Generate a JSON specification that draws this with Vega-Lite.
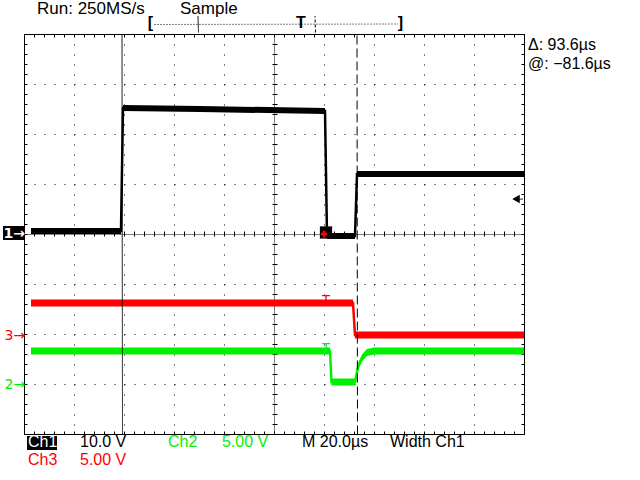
{
  "$schema": "https://vega.github.io/schema/vega-lite/v6.json",
  "width": 500,
  "height": 400,
  "autosize": {"type": "none"},
  "padding": {"left": 24, "top": 34, "right": 116, "bottom": 46},
  "background": "white",
  "config": {
    "view": {"stroke": null},
    "axis": {"labels": false, "domain": false, "ticks": false, "grid": false, "tickColor": "black", "gridColor": "black", "gridOpacity": 1, "domainColor": "black", "tickWidth": 1, "domainWidth": 1, "gridWidth": 1},
    "text": {"font": "Liberation Sans"}
  },
  "resolve": {"axis": {"x": "independent", "y": "independent"}},
  "datasets": {
    "traces": [
      {"ch": "1", "t": 0.14, "v": 4.06, "lo": 4.0, "hi": 4.12},
      {"ch": "1", "t": 1.94, "v": 4.06, "lo": 4.0, "hi": 4.12},
      {"ch": "1", "t": 1.98, "v": 6.52, "lo": 6.46, "hi": 6.58},
      {"ch": "1", "t": 3.52, "v": 6.5, "lo": 6.44, "hi": 6.56},
      {"ch": "1", "t": 6.02, "v": 6.46, "lo": 6.4, "hi": 6.52},
      {"ch": "1", "t": 6.06, "v": 3.96, "lo": 3.9, "hi": 4.02},
      {"ch": "1", "t": 6.62, "v": 3.96, "lo": 3.9, "hi": 4.02},
      {"ch": "1", "t": 6.66, "v": 5.2, "lo": 5.14, "hi": 5.26},
      {"ch": "1", "t": 10, "v": 5.2, "lo": 5.14, "hi": 5.26},
      {"ch": "3", "t": 0.14, "v": 2.62, "lo": 2.55, "hi": 2.69},
      {"ch": "3", "t": 6.58, "v": 2.62, "lo": 2.55, "hi": 2.69},
      {"ch": "3", "t": 6.62, "v": 1.98, "lo": 1.91, "hi": 2.05},
      {"ch": "3", "t": 10, "v": 1.98, "lo": 1.91, "hi": 2.05},
      {"ch": "2", "t": 0.14, "v": 1.66, "lo": 1.59, "hi": 1.73},
      {"ch": "2", "t": 6.12, "v": 1.66, "lo": 1.59, "hi": 1.73},
      {"ch": "2", "t": 6.15, "v": 1.04, "lo": 0.97, "hi": 1.11},
      {"ch": "2", "t": 6.62, "v": 1.04, "lo": 0.97, "hi": 1.11},
      {"ch": "2", "t": 6.64, "v": 1.14, "lo": 1.07, "hi": 1.21},
      {"ch": "2", "t": 6.68, "v": 1.34, "lo": 1.27, "hi": 1.41},
      {"ch": "2", "t": 6.76, "v": 1.52, "lo": 1.45, "hi": 1.59},
      {"ch": "2", "t": 6.86, "v": 1.63, "lo": 1.56, "hi": 1.7},
      {"ch": "2", "t": 7.0, "v": 1.66, "lo": 1.59, "hi": 1.73},
      {"ch": "2", "t": 10, "v": 1.66, "lo": 1.59, "hi": 1.73}
    ],
    "rules": [
      {"t": 1.96, "t2": 1.96, "v": 0, "v2": 8, "kind": "cursor1"},
      {"t": 6.66, "t2": 6.66, "v": 0, "v2": 8, "kind": "cursor2"},
      {"t": 2.6, "t2": 7.48, "v": 8.2, "v2": 8.2, "kind": "record"},
      {"t": 3.48, "t2": 3.48, "v": 8.04, "v2": 8.36, "kind": "view"},
      {"t": 5.82, "t2": 5.82, "v": 8.04, "v2": 8.36, "kind": "trigpos"},
      {"t": 9.84, "t2": 9.98, "v": 4.7, "v2": 4.7, "kind": "view"}
    ],
    "header": [
      {"label": "Run: 250MS/s", "ch": "0", "t": 0.26, "v": 8.4},
      {"label": "Sample", "ch": "0", "t": 3.12, "v": 8.4}
    ],
    "labels": [
      {"label": "10.0 V", "ch": "1", "t": 1.12, "v": -0.26},
      {"label": "Ch2", "ch": "2", "t": 2.88, "v": -0.26},
      {"label": "5.00 V", "ch": "2", "t": 3.96, "v": -0.26},
      {"label": "M 20.0µs", "ch": "0", "t": 5.56, "v": -0.26},
      {"label": "Width Ch1", "ch": "0", "t": 7.32, "v": -0.26},
      {"label": "Ch3", "ch": "3", "t": 0.08, "v": -0.62},
      {"label": "5.00 V", "ch": "3", "t": 1.12, "v": -0.62},
      {"label": "Δ: 93.6µs", "ch": "0", "t": 10.08, "v": 7.68},
      {"label": "@: −81.6µs", "ch": "0", "t": 10.08, "v": 7.3}
    ]
  },
  "layer": [
    {
      "data": {"name": "traces"},
      "mark": {"type": "area", "opacity": 1, "clip": false},
      "encoding": {
        "x": {"field": "t", "type": "quantitative", "scale": {"domain": [0, 10], "nice": false, "zero": false},
              "axis": {"orient": "bottom", "values": [1, 2, 3, 4, 6, 7, 8, 9], "grid": true, "gridDash": [1, 9], "title": null}},
        "y": {"field": "lo", "type": "quantitative", "scale": {"domain": [0, 8], "nice": false, "zero": false},
              "axis": {"orient": "left", "values": [1, 2, 3, 5, 6, 7], "grid": true, "gridDash": [1, 9], "title": null}},
        "y2": {"field": "hi"},
        "color": {"field": "ch", "type": "nominal", "scale": {"domain": ["0", "1", "2", "3"], "range": ["#000000", "#000000", "#00f000", "#ff0000"]}, "legend": null}
      }
    },
    {
      "data": {"name": "traces"},
      "mark": {"type": "line", "strokeWidth": 2.5, "clip": false},
      "encoding": {
        "x": {"field": "t", "type": "quantitative", "scale": {"domain": [0, 10], "nice": false, "zero": false},
              "axis": {"orient": "bottom", "domain": true, "ticks": true, "tickSize": -3, "title": null,
                       "values": [0,0.2,0.4,0.6,0.8,1,1.2,1.4,1.6,1.8,2,2.2,2.4,2.6,2.8,3,3.2,3.4,3.6,3.8,4,4.2,4.4,4.6,4.8,5,5.2,5.4,5.6,5.8,6,6.2,6.4,6.6,6.8,7,7.2,7.4,7.6,7.8,8,8.2,8.4,8.6,8.8,9,9.2,9.4,9.6,9.8,10]}},
        "y": {"field": "v", "type": "quantitative", "scale": {"domain": [0, 8], "nice": false, "zero": false},
              "axis": {"orient": "left", "domain": true, "ticks": true, "tickSize": -3, "title": null,
                       "values": [0,0.2,0.4,0.6,0.8,1,1.2,1.4,1.6,1.8,2,2.2,2.4,2.6,2.8,3,3.2,3.4,3.6,3.8,4,4.2,4.4,4.6,4.8,5,5.2,5.4,5.6,5.8,6,6.2,6.4,6.6,6.8,7,7.2,7.4,7.6,7.8,8]}},
        "color": {"field": "ch", "type": "nominal", "scale": {"domain": ["0", "1", "2", "3"], "range": ["#000000", "#000000", "#00f000", "#ff0000"]}, "legend": null}
      }
    },
    {
      "data": {"name": "rules"},
      "mark": {"type": "rule", "color": "black", "strokeWidth": 1, "xOffset": 0.5, "yOffset": 0.5, "clip": false},
      "encoding": {
        "x": {"field": "t", "type": "quantitative", "scale": {"domain": [0, 10], "nice": false, "zero": false},
              "axis": {"orient": "top", "domain": true, "ticks": true, "tickSize": -3, "title": null,
                       "values": [0,0.2,0.4,0.6,0.8,1,1.2,1.4,1.6,1.8,2,2.2,2.4,2.6,2.8,3,3.2,3.4,3.6,3.8,4,4.2,4.4,4.6,4.8,5,5.2,5.4,5.6,5.8,6,6.2,6.4,6.6,6.8,7,7.2,7.4,7.6,7.8,8,8.2,8.4,8.6,8.8,9,9.2,9.4,9.6,9.8,10]}},
        "x2": {"field": "t2"},
        "y": {"field": "v", "type": "quantitative", "scale": {"domain": [0, 8], "nice": false, "zero": false},
              "axis": {"orient": "right", "domain": true, "ticks": true, "tickSize": -3, "title": null,
                       "values": [0,0.2,0.4,0.6,0.8,1,1.2,1.4,1.6,1.8,2,2.2,2.4,2.6,2.8,3,3.2,3.4,3.6,3.8,4,4.2,4.4,4.6,4.8,5,5.2,5.4,5.6,5.8,6,6.2,6.4,6.6,6.8,7,7.2,7.4,7.6,7.8,8]}},
        "y2": {"field": "v2"},
        "strokeDash": {"field": "kind", "type": "nominal", "legend": null,
                       "scale": {"domain": ["cursor1", "cursor2", "record", "view", "trigpos"], "range": [[1, 0], [9, 4], [1, 2], [1, 0], [3, 2]]}}
      }
    },
    {
      "data": {"values": [{"t": 6.04, "v": 4.03}]},
      "mark": {"type": "point", "shape": "square", "filled": true, "color": "black", "size": 150, "opacity": 1, "clip": false},
      "encoding": {
        "x": {"field": "t", "type": "quantitative", "scale": {"domain": [0, 10], "nice": false, "zero": false},
              "axis": {"orient": "bottom", "values": [5], "grid": true, "gridDash": [1, 1], "title": null}},
        "y": {"field": "v", "type": "quantitative", "scale": {"domain": [0, 8], "nice": false, "zero": false},
              "axis": {"orient": "left", "values": [4], "grid": true, "gridDash": [1, 1], "title": null}}
      }
    },
    {
      "data": {"values": [{"t": 6.0, "v": 4.0}]},
      "mark": {"type": "point", "shape": "cross", "filled": true, "color": "#ff0000", "size": 40, "opacity": 1, "clip": false},
      "encoding": {
        "x": {"field": "t", "type": "quantitative", "scale": {"domain": [0, 10], "nice": false, "zero": false}, "axis": null},
        "y": {"field": "v", "type": "quantitative", "scale": {"domain": [0, 8], "nice": false, "zero": false}, "axis": null}
      }
    },
    {
      "data": {"values": [{"t": 6.04, "v": 2.58, "ch": "3"}, {"t": 6.04, "v": 1.62, "ch": "2"}]},
      "mark": {"type": "text", "text": "T", "fontSize": 14, "align": "center", "baseline": "alphabetic", "clip": false},
      "encoding": {
        "x": {"field": "t", "type": "quantitative", "scale": {"domain": [0, 10], "nice": false, "zero": false},
              "axis": {"orient": "bottom", "offset": -203, "ticks": true, "tickSize": 5, "title": null,
                       "values": [0,0.2,0.4,0.6,0.8,1,1.2,1.4,1.6,1.8,2,2.2,2.4,2.6,2.8,3,3.2,3.4,3.6,3.8,4,4.2,4.4,4.6,4.8,5,5.2,5.4,5.6,5.8,6,6.2,6.4,6.6,6.8,7,7.2,7.4,7.6,7.8,8,8.2,8.4,8.6,8.8,9,9.2,9.4,9.6,9.8,10]}},
        "y": {"field": "v", "type": "quantitative", "scale": {"domain": [0, 8], "nice": false, "zero": false},
              "axis": {"orient": "left", "offset": -253, "ticks": true, "tickSize": 5, "title": null,
                       "values": [0,0.2,0.4,0.6,0.8,1,1.2,1.4,1.6,1.8,2,2.2,2.4,2.6,2.8,3,3.2,3.4,3.6,3.8,4,4.2,4.4,4.6,4.8,5,5.2,5.4,5.6,5.8,6,6.2,6.4,6.6,6.8,7,7.2,7.4,7.6,7.8,8]}},
        "color": {"field": "ch", "type": "nominal", "scale": {"domain": ["0", "1", "2", "3"], "range": ["#000000", "#000000", "#00f000", "#ff0000"]}, "legend": null}
      }
    },
    {
      "data": {"values": [{"t": 9.84, "v": 4.7}]},
      "mark": {"type": "point", "shape": "triangle-left", "filled": true, "color": "black", "size": 75, "opacity": 1, "clip": false},
      "encoding": {
        "x": {"field": "t", "type": "quantitative", "scale": {"domain": [0, 10], "nice": false, "zero": false}, "axis": null},
        "y": {"field": "v", "type": "quantitative", "scale": {"domain": [0, 8], "nice": false, "zero": false}, "axis": null}
      }
    },
    {
      "data": {"values": [{"label": "[", "t": 2.53, "v": 8.12}, {"label": "]", "t": 7.53, "v": 8.12}, {"label": "T", "t": 5.54, "v": 8.12}]},
      "mark": {"type": "text", "fontSize": 16, "fontWeight": "bold", "align": "center", "baseline": "alphabetic", "color": "black", "clip": false},
      "encoding": {
        "x": {"field": "t", "type": "quantitative", "scale": {"domain": [0, 10], "nice": false, "zero": false}, "axis": null},
        "y": {"field": "v", "type": "quantitative", "scale": {"domain": [0, 8], "nice": false, "zero": false}, "axis": null},
        "text": {"field": "label"}
      }
    },
    {
      "data": {"name": "header"},
      "mark": {"type": "text", "fontSize": 17, "align": "left", "baseline": "alphabetic", "color": "black", "clip": false},
      "encoding": {
        "x": {"field": "t", "type": "quantitative", "scale": {"domain": [0, 10], "nice": false, "zero": false}, "axis": null},
        "y": {"field": "v", "type": "quantitative", "scale": {"domain": [0, 8], "nice": false, "zero": false}, "axis": null},
        "text": {"field": "label"}
      }
    },
    {
      "data": {"name": "labels"},
      "mark": {"type": "text", "fontSize": 16, "align": "left", "baseline": "alphabetic", "clip": false},
      "encoding": {
        "x": {"field": "t", "type": "quantitative", "scale": {"domain": [0, 10], "nice": false, "zero": false}, "axis": null},
        "y": {"field": "v", "type": "quantitative", "scale": {"domain": [0, 8], "nice": false, "zero": false}, "axis": null},
        "text": {"field": "label"},
        "color": {"field": "ch", "type": "nominal", "scale": {"domain": ["0", "1", "2", "3"], "range": ["#000000", "#000000", "#00f000", "#ff0000"]}, "legend": null}
      }
    },
    {
      "data": {"values": [{"label": "Ch1", "t": 0.06, "t2": 0.66, "v": -0.04, "v2": -0.32}, {"label": "1→", "t": -0.42, "t2": 0, "v": 4.16, "v2": 3.88}]},
      "mark": {"type": "rect", "color": "black", "clip": false},
      "encoding": {
        "x": {"field": "t", "type": "quantitative", "scale": {"domain": [0, 10], "nice": false, "zero": false}, "axis": null},
        "x2": {"field": "t2"},
        "y": {"field": "v", "type": "quantitative", "scale": {"domain": [0, 8], "nice": false, "zero": false}, "axis": null},
        "y2": {"field": "v2"}
      }
    },
    {
      "data": {"values": [{"label": "Ch1", "t": 0.08, "v": -0.26}]},
      "mark": {"type": "text", "fontSize": 16, "align": "left", "baseline": "alphabetic", "color": "white", "clip": false},
      "encoding": {
        "x": {"field": "t", "type": "quantitative", "scale": {"domain": [0, 10], "nice": false, "zero": false}, "axis": null},
        "y": {"field": "v", "type": "quantitative", "scale": {"domain": [0, 8], "nice": false, "zero": false}, "axis": null},
        "text": {"field": "label"}
      }
    },
    {
      "data": {"values": [{"label": "1→", "t": -0.41, "v": 3.92}]},
      "mark": {"type": "text", "font": "DejaVu Sans", "fontSize": 14, "fontWeight": "bold", "align": "left", "baseline": "alphabetic", "color": "white", "clip": false},
      "encoding": {
        "x": {"field": "t", "type": "quantitative", "scale": {"domain": [0, 10], "nice": false, "zero": false}, "axis": null},
        "y": {"field": "v", "type": "quantitative", "scale": {"domain": [0, 8], "nice": false, "zero": false}, "axis": null},
        "text": {"field": "label"}
      }
    },
    {
      "data": {"values": [{"label": "3→", "ch": "3", "t": -0.39, "v": 1.88}, {"label": "2→", "ch": "2", "t": -0.39, "v": 0.9}]},
      "mark": {"type": "text", "font": "DejaVu Sans", "fontSize": 14, "align": "left", "baseline": "alphabetic", "clip": false},
      "encoding": {
        "x": {"field": "t", "type": "quantitative", "scale": {"domain": [0, 10], "nice": false, "zero": false}, "axis": null},
        "y": {"field": "v", "type": "quantitative", "scale": {"domain": [0, 8], "nice": false, "zero": false}, "axis": null},
        "text": {"field": "label"},
        "color": {"field": "ch", "type": "nominal", "scale": {"domain": ["0", "1", "2", "3"], "range": ["#000000", "#000000", "#00f000", "#ff0000"]}, "legend": null}
      }
    }
  ]
}
